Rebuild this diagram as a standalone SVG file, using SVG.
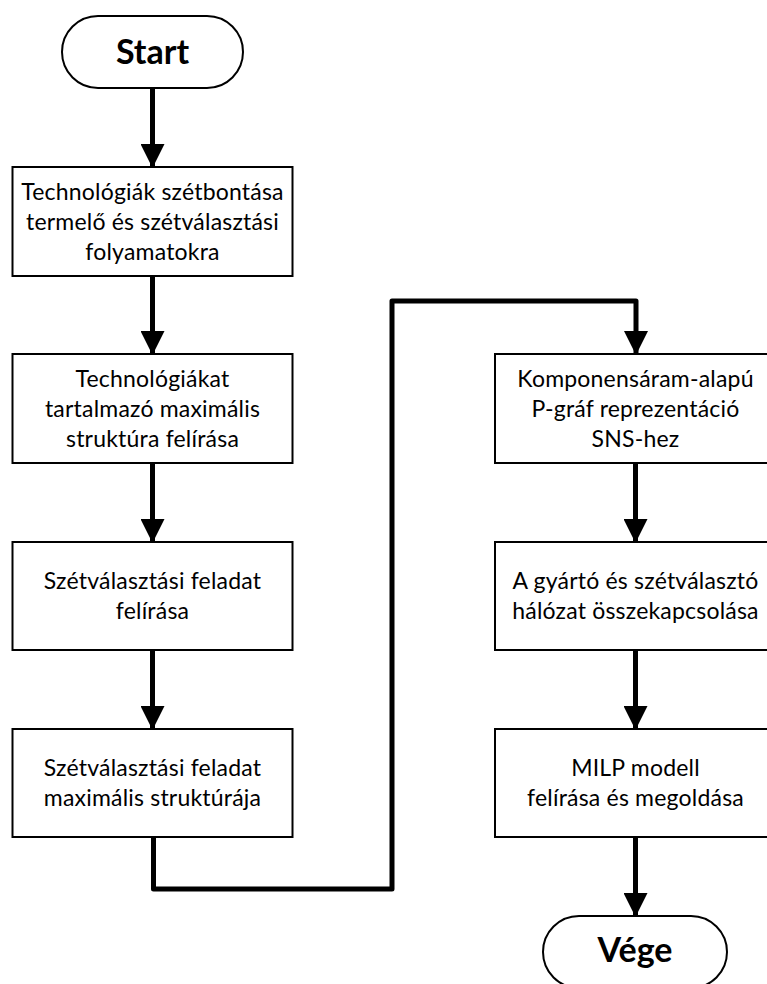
<svg xmlns="http://www.w3.org/2000/svg" width="767" height="984" viewBox="0 0 767 984">
  <style>
    .box { fill: #ffffff; stroke: #000000; stroke-width: 2; }
    .term { fill: #ffffff; stroke: #000000; stroke-width: 2; }
    .lbl { font-family: Lato, "Open Sans", "Liberation Sans", sans-serif; font-size: 23px; letter-spacing: 0.2px; fill: #000000; text-anchor: middle; }
    .tlbl { font-family: Lato, "Open Sans", "Liberation Sans", sans-serif; font-size: 34px; font-weight: bold; fill: #000000; text-anchor: middle; }
    .conn { fill: none; stroke: #000000; stroke-width: 5; stroke-linejoin: round; }
  </style>
  <defs>
    <marker id="arrow" markerUnits="userSpaceOnUse" markerWidth="24" markerHeight="24" viewBox="0 0 24 24" refX="23" refY="12" orient="auto">
      <path d="M0,0 L24,12 L0,24 Z" fill="#000000"/>
    </marker>
  </defs>

  <rect width="767" height="984" fill="#ffffff"/>

  <!-- connectors -->
  <g id="connectors">
    <path class="conn" d="M152.5,88 V167" marker-end="url(#arrow)"/>
    <path class="conn" d="M152.5,276 V354" marker-end="url(#arrow)"/>
    <path class="conn" d="M152.5,463 V542" marker-end="url(#arrow)"/>
    <path class="conn" d="M152.5,650 V729" marker-end="url(#arrow)"/>
    <path class="conn" d="M153.5,837 V889 H392 V301 H636 V354" marker-end="url(#arrow)"/>
    <path class="conn" d="M635.5,463 V542" marker-end="url(#arrow)"/>
    <path class="conn" d="M635.5,650 V729" marker-end="url(#arrow)"/>
    <path class="conn" d="M635.5,837 V916" marker-end="url(#arrow)"/>
  </g>

  <g id="start">
    <rect class="term" x="62" y="16" width="181" height="72" rx="36" ry="36"/>
    <text class="tlbl" x="152.5" y="64">Start</text>
  </g>

  <g id="step1">
    <rect class="box" x="12.5" y="167" width="280" height="109"/>
    <text class="lbl" x="152.5" y="200">Technológiák szétbontása</text>
    <text class="lbl" x="152.5" y="230">termelő és szétválasztási</text>
    <text class="lbl" x="152.5" y="260">folyamatokra</text>
  </g>

  <g id="step2">
    <rect class="box" x="12.5" y="354" width="280" height="109"/>
    <text class="lbl" x="152.5" y="387">Technológiákat</text>
    <text class="lbl" x="152.5" y="417">tartalmazó maximális</text>
    <text class="lbl" x="152.5" y="447">struktúra felírása</text>
  </g>

  <g id="step3">
    <rect class="box" x="12.5" y="542" width="280" height="108"/>
    <text class="lbl" x="152.5" y="589">Szétválasztási feladat</text>
    <text class="lbl" x="152.5" y="619">felírása</text>
  </g>

  <g id="step4">
    <rect class="box" x="12.5" y="729" width="280" height="108"/>
    <text class="lbl" x="152.5" y="776">Szétválasztási feladat</text>
    <text class="lbl" x="152.5" y="806">maximális struktúrája</text>
  </g>

  <g id="step5">
    <rect class="box" x="495" y="354" width="280" height="109"/>
    <text class="lbl" x="635.5" y="387">Komponensáram-alapú</text>
    <text class="lbl" x="635.5" y="417">P-gráf reprezentáció</text>
    <text class="lbl" x="635.5" y="447">SNS-hez</text>
  </g>

  <g id="step6">
    <rect class="box" x="495" y="542" width="280" height="108"/>
    <text class="lbl" x="635.5" y="589">A gyártó és szétválasztó</text>
    <text class="lbl" x="635.5" y="619">hálózat összekapcsolása</text>
  </g>

  <g id="step7">
    <rect class="box" x="495" y="729" width="280" height="108"/>
    <text class="lbl" x="635.5" y="776">MILP modell</text>
    <text class="lbl" x="635.5" y="806">felírása és megoldása</text>
  </g>

  <g id="end">
    <rect class="term" x="543" y="916" width="184" height="72" rx="36" ry="36"/>
    <text class="tlbl" x="635" y="962">Vége</text>
  </g>
</svg>
